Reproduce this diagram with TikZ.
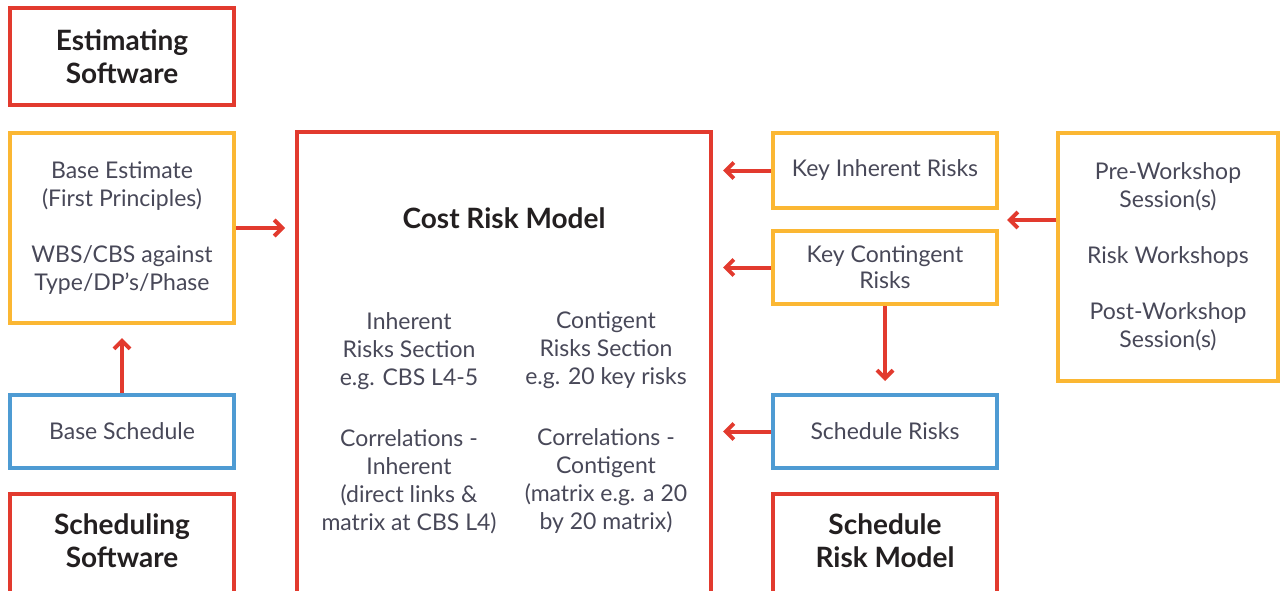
\documentclass[tikz,border=0pt]{standalone}
\usepackage{fontspec}
\setmainfont{Lato}
\usepackage{tikz}
\usetikzlibrary{arrows.meta,positioning}
\usepackage{xcolor}
\definecolor{dfred}{RGB}{226,58,46}
\definecolor{dforange}{RGB}{251,183,51}
\definecolor{dfblue}{RGB}{78,155,211}
\definecolor{dfdark}{RGB}{35,31,32}
\definecolor{dfgray}{RGB}{72,72,88}
\tikzstyle{software} = [rectangle, minimum width=224pt, draw=dfred, line width=4pt, text=dfdark, align=center, font=\fontsize{28}{33}\selectfont\bfseries]
\tikzstyle{title} = [text=dfdark, align=center, font=\fontsize{28}{33}\selectfont\bfseries]
\tikzstyle{input} = [rectangle, minimum width=224pt, draw=dforange, line width=4pt, text=dfgray, align=center, font=\fontsize{23}{28}\selectfont]
\tikzstyle{sched} = [input, draw=dfblue]
\tikzstyle{body} = [text=dfgray, align=center, font=\fontsize{23}{28}\selectfont]
\tikzstyle{arrow} = [line width=4pt, -{Straight Barb[length=8pt,width=16pt]}, color=dfred]

\begin{document}
\begin{tikzpicture}[x=1pt,y=-1pt]
\useasboundingbox (0,0) rectangle (1282,591);
\clip (0,0) rectangle (1282,591);
% Left column
\node (estimating) [software, minimum height=97pt] at (122,56.5) {Estimating\\Software};
\node (baseest) [input, minimum height=190pt] at (122,228) {Base Estimate\\(First Principles)\\[28pt]WBS/CBS against\\Type/DP's/Phase};
\node (basesched) [sched, minimum height=73pt] at (122,431.5) {Base Schedule};
\node (scheduling) [software, minimum height=106pt] at (122,547) {};
\node (schedtitle) [title] at (122,541) {Scheduling\\Software};

% Cost risk model
\node (costmodel) [software, minimum width=414pt, minimum height=490pt] at (504,377) {};
\node (costtitle) [title] at (504,218) {Cost Risk Model};
\node (inhcol) [body] at (409,423) {Inherent\\Risks Section\\e.g. CBS L4-5\\[33pt]Correlations -\\Inherent\\(direct links \&\\matrix at CBS L4)};
\node (concol) [body] at (606,423) {Contigent\\Risks Section\\e.g. 20 key risks\\[33pt]Correlations -\\Contigent\\(matrix e.g. a 20\\by 20 matrix)};

% Risk inputs
\node (inherent) [input, minimum height=75pt] at (885,170.5) {Key Inherent Risks};
\node (contingent) [input, minimum height=73pt, font=\fontsize{23}{26}\selectfont] at (885,267.5) {Key Contingent\\Risks};
\node (schedrisks) [sched, minimum height=73pt] at (885,431.5) {Schedule Risks};
\node (schedmodel) [software, minimum height=106pt] at (885,547) {};
\node (smtitle) [title] at (885,541) {Schedule\\Risk Model};
\node (workshops) [input, minimum width=220pt, minimum height=248pt] at (1168,257) {Pre-Workshop\\Session(s)\\[28pt]Risk Workshops\\[28pt]Post-Workshop\\Session(s)};
\coordinate (keyrisks) at (999,220);

% Arrows
\draw[arrow, shorten >=10pt] (baseest) -- (baseest -| costmodel.west);
\draw[arrow, shorten >=13pt] (basesched) -- (baseest);
\draw[arrow, shorten >=10pt] (inherent) -- (inherent -| costmodel.east);
\draw[arrow, shorten >=10pt] (contingent) -- (contingent -| costmodel.east);
\draw[arrow, shorten >=10pt] (schedrisks) -- (schedrisks -| costmodel.east);
\draw[arrow, shorten >=12pt] (contingent) -- (schedrisks);
\draw[arrow, shorten >=8pt] (workshops.west |- keyrisks) -- (keyrisks);
\end{tikzpicture}
\end{document}
